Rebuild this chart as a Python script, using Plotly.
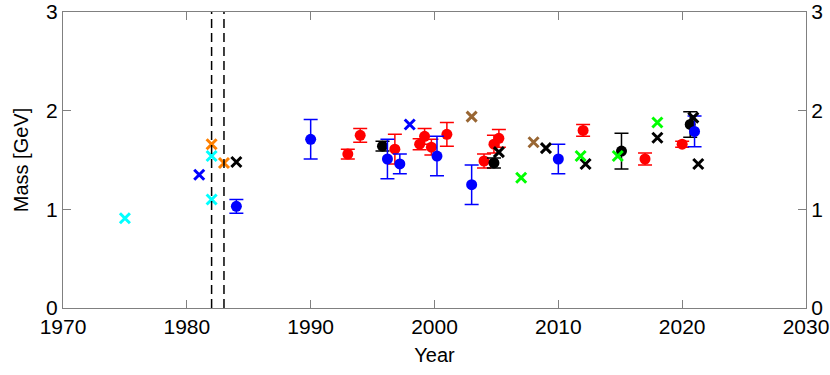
import plotly.graph_objects as go

# Circles with error bars
blue_year = [1984, 1990, 1996.2, 1997.2, 2000.2, 2003, 2010, 2021]
blue_mass = [1.03, 1.71, 1.51, 1.46, 1.54, 1.25, 1.51, 1.79]
blue_err = [0.07, 0.20, 0.20, 0.10, 0.20, 0.20, 0.15, 0.155]

red_year = [1993, 1994, 1996.8, 1998.8, 1999.2, 1999.75, 2001, 2004, 2004.8, 2005.2, 2012, 2017, 2020]
red_mass = [1.56, 1.75, 1.61, 1.66, 1.74, 1.63, 1.76, 1.49, 1.66, 1.72, 1.80, 1.51, 1.66]
red_err = [0.05, 0.07, 0.15, 0.055, 0.08, 0.08, 0.12, 0.07, 0.09, 0.09, 0.06, 0.06, 0.03]

black_year = [1995.8, 2004.8, 2015.1, 2020.65]
black_mass = [1.64, 1.47, 1.59, 1.86]
black_err = [0.05, 0.05, 0.18, 0.13]

# Crosses
cyan_x_year = [1975, 1982, 1982]
cyan_x_mass = [0.91, 1.54, 1.10]
blue_x_year = [1981, 1998]
blue_x_mass = [1.35, 1.86]
orange_x_year = [1982, 1983]
orange_x_mass = [1.66, 1.47]
black_x_year = [1984, 2005.2, 2009, 2012.2, 2018, 2020.9, 2021.3]
black_x_mass = [1.48, 1.58, 1.62, 1.46, 1.725, 1.93, 1.46]
brown_x_year = [2003, 2008]
brown_x_mass = [1.94, 1.68]
green_x_year = [2007, 2011.8, 2014.8, 2018]
green_x_mass = [1.32, 1.54, 1.54, 1.88]

# Vertical reference lines
vline_years = [1982, 1983]

x_ticks = [1970, 1980, 1990, 2000, 2010, 2020, 2030]
y_ticks = [0, 1, 2, 3]

FONT = "Liberation Sans, Arial, sans-serif"
AXC = "#808080"

fig = go.Figure()

def circles(xs, ys, es, color):
    fig.add_trace(go.Scatter(
        x=xs, y=ys, mode="markers",
        marker=dict(symbol="circle", size=11, color=color),
        error_y=dict(type="data", array=es, visible=True, color=color,
                     thickness=1.5, width=7),
        showlegend=False, hoverinfo="skip"))

def crosses(xs, ys, color):
    fig.add_trace(go.Scatter(
        x=xs, y=ys, mode="markers",
        marker=dict(symbol="x-thin-open", size=10, color=color,
                    line=dict(width=3, color=color)),
        showlegend=False, hoverinfo="skip"))

circles(red_year, red_mass, red_err, "#ff0000")
circles(black_year, black_mass, black_err, "#000000")
circles(blue_year, blue_mass, blue_err, "#0000ff")

crosses(cyan_x_year, cyan_x_mass, "#00ffff")
crosses(blue_x_year, blue_x_mass, "#0000ff")
crosses(orange_x_year, orange_x_mass, "#ff8000")
crosses(black_x_year, black_x_mass, "#000000")
crosses(brown_x_year, brown_x_mass, "#996633")
crosses(green_x_year, green_x_mass, "#00ff00")

# invisible trace for right axis
fig.add_trace(go.Scatter(x=[1970], y=[0], yaxis="y2", mode="markers",
                         marker=dict(opacity=0), showlegend=False, hoverinfo="skip"))

for vx in vline_years:
    fig.add_shape(type="line", x0=vx, x1=vx, y0=0, y1=1, xref="x", yref="paper",
                  line=dict(color="black", width=1.5, dash="9px,5px"))

axis_common = dict(showgrid=False, zeroline=False, ticks="inside", ticklen=8,
                   tickwidth=1, tickcolor=AXC, showline=True, linecolor=AXC,
                   linewidth=1, automargin=False,
                   tickfont=dict(family=FONT, size=21, color="black"))

fig.update_layout(
    width=830, height=375,
    margin=dict(l=63, r=24, t=12, b=67),
    plot_bgcolor="white", paper_bgcolor="white",
    xaxis=dict(range=[1970, 2030], tickvals=x_ticks, mirror="ticks",
               title=dict(text="Year", font=dict(family=FONT, size=20, color="black"), standoff=10),
               **axis_common),
    yaxis=dict(range=[0, 3], tickvals=y_ticks, mirror="ticks",
               title=dict(text="Mass [GeV]", font=dict(family=FONT, size=20, color="black"), standoff=12),
               **axis_common),
    yaxis2=dict(range=[0, 3], tickvals=y_ticks, overlaying="y", side="right",
                **axis_common),
)

fig.write_html("out.html", config={"displayModeBar": False},
               post_script="document.body.style.margin='0px';")
